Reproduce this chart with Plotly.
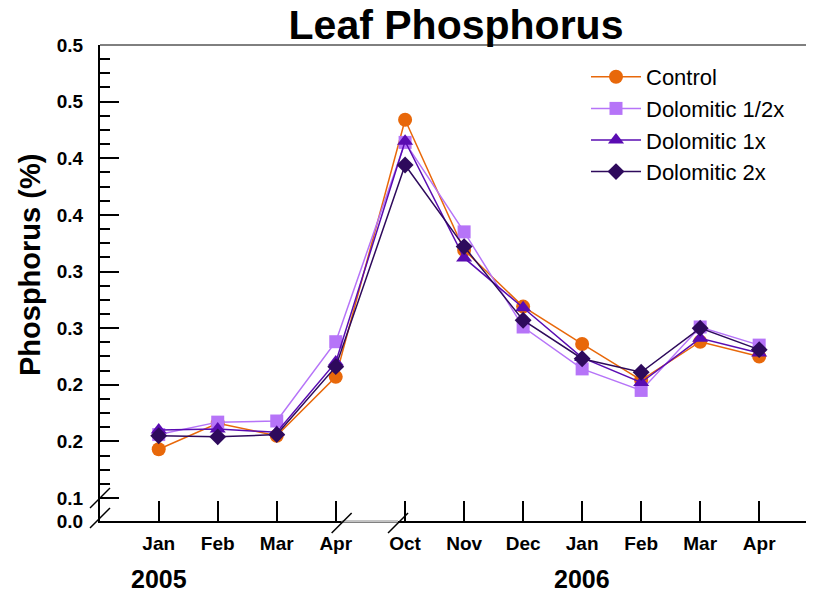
import plotly.graph_objects as go

# ---------------- data ----------------
months = ["Jan", "Feb", "Mar", "Apr", "Oct", "Nov", "Dec", "Jan", "Feb", "Mar", "Apr"]
years = ["2005", "2006"]
control = [0.143, 0.166, 0.155, 0.207, 0.434, 0.319, 0.269, 0.236, 0.204, 0.238, 0.225]
dolo_half = [0.156, 0.167, 0.168, 0.238, 0.414, 0.335, 0.251, 0.214, 0.195, 0.251, 0.235]
dolo_1x = [0.160, 0.161, 0.158, 0.220, 0.415, 0.312, 0.268, 0.224, 0.202, 0.241, 0.228]
dolo_2x = [0.155, 0.154, 0.156, 0.216, 0.394, 0.322, 0.257, 0.223, 0.211, 0.250, 0.231]
ytick_vals = [0.0797, 0.10, 0.15, 0.20, 0.25, 0.30, 0.35, 0.40, 0.45, 0.50]
ytick_text = ["0.0", "0.1", "0.2", "0.2", "0.3", "0.3", "0.4", "0.4", "0.5", "0.5"]

# x positions: category index, with a small extra gap at the Apr->Oct break
GAP = 0.175
xpos = [i + (GAP if i >= 4 else 0.0) for i in range(len(months))]

# minor ticks every 0.0125 between 0.1 and 0.5
minor_vals = [round(0.1 + k * 0.0125, 4) for k in range(1, 32) if k % 4 != 0]

FONT = "Liberation Sans, Arial, sans-serif"
W, H = 814, 596
OFF = 8  # page body margin offset
L, R, T, B = 92, 10, 37, 83
PW, PH = W - L - R, H - T - B


def px(xs):
    """screen x pixel -> paper x"""
    return (xs - OFF - L) / PW


def py(ys):
    """screen y pixel -> paper y"""
    return (H - B - (ys - OFF)) / PH


series = [
    ("Control", control, "#E8680A", "circle", 14),
    ("Dolomitic 1/2x", dolo_half, "#B674F8", "square", 13),
    ("Dolomitic 1x", dolo_1x, "#5A0CB2", "triangle-up", 14),
    ("Dolomitic 2x", dolo_2x, "#2E0A5C", "diamond", 13),
]

fig = go.Figure()
for name, vals, col, sym, sz in series:
    fig.add_trace(go.Scatter(
        x=xpos, y=vals, name=name, mode="lines+markers",
        line=dict(color=col, width=1.5),
        marker=dict(symbol=sym, size=sz, color=col, line=dict(width=0)),
    ))

shapes = []
# top frame line
shapes.append(dict(type="line", xref="paper", yref="paper", x0=0, x1=1, y0=1, y1=1,
                   line=dict(color="black", width=1)))
# x-axis break: lighten segment between slashes
xa = (xpos[3] + 0.10)
xb = (xpos[4] - 0.12)
shapes.append(dict(type="line", xref="x", yref="paper", x0=xa, x1=xb, y0=0, y1=0,
                   line=dict(color="white", width=3), layer="above"))
shapes.append(dict(type="line", xref="x", yref="paper", x0=xa, x1=xb, y0=0, y1=0,
                   line=dict(color="#888888", width=1), layer="above"))
# slashes on x axis
for xc in (xa, xb):
    shapes.append(dict(type="line", xref="x", yref="paper",
                       x0=xc - 10 / 59, x1=xc + 10 / 59, y0=py(533), y1=py(513),
                       line=dict(color="black", width=1.5), layer="above"))
# slashes on y axis
for yc in (498, 518):
    shapes.append(dict(type="line", xref="paper", yref="paper",
                       x0=px(90), x1=px(110), y0=py(yc + 10), y1=py(yc - 10),
                       line=dict(color="black", width=1.5), layer="above"))

annotations = [
    dict(text="Phosphorus (%)", xref="paper", yref="paper", x=px(30), y=py(265),
         textangle=-90, showarrow=False, xanchor="center", yanchor="middle",
         font=dict(family=FONT, size=29, color="black", weight="bold")),
    dict(text=years[0], xref="x", yref="paper", x=xpos[0], y=py(579), showarrow=False,
         xanchor="center", yanchor="middle",
         font=dict(family=FONT, size=25, color="black", weight="bold")),
    dict(text=years[1], xref="x", yref="paper", x=xpos[7], y=py(579), showarrow=False,
         xanchor="center", yanchor="middle",
         font=dict(family=FONT, size=25, color="black", weight="bold")),
]

fig.update_layout(
    width=W, height=H,
    margin=dict(l=L, r=R, t=T, b=B, autoexpand=False),
    paper_bgcolor="white", plot_bgcolor="white",
    title=dict(text="Leaf Phosphorus", xref="paper", x=0.5, xanchor="center",
               y=1 - (25 - OFF) / H, yanchor="middle", automargin=False,
               font=dict(family=FONT, size=41, color="black", weight="bold")),
    showlegend=True,
    legend=dict(x=px(586), y=py(56), xanchor="left", yanchor="top",
                font=dict(family=FONT, size=22, color="black"),
                itemwidth=50,
                bgcolor="rgba(0,0,0,0)", tracegroupgap=0),
    shapes=shapes,
    annotations=annotations,
)

fig.update_xaxes(
    range=[-0.995, 11.07], tickmode="array", tickvals=xpos, ticktext=months,
    ticks="inside", ticklen=20, tickwidth=2, tickcolor="black", automargin=False,
    showline=True, linecolor="black", linewidth=2, showgrid=False, zeroline=False,
    tickfont=dict(family=FONT, size=19, color="black", weight="bold"),
    ticklabelstandoff=4,
)
fig.update_yaxes(
    range=[0.0797, 0.5], tickmode="array", tickvals=ytick_vals, ticktext=ytick_text,
    ticks="inside", ticklen=19, tickwidth=2, tickcolor="black", automargin=False,
    minor=dict(tickmode="array", tickvals=minor_vals, ticks="inside", ticklen=10,
               tickwidth=2, tickcolor="black", showgrid=False),
    showline=True, linecolor="black", linewidth=2, showgrid=False, zeroline=False,
    tickfont=dict(family=FONT, size=19, color="black", weight="bold"),
    ticklabelstandoff=11,
)

fig.write_html("out.html")
